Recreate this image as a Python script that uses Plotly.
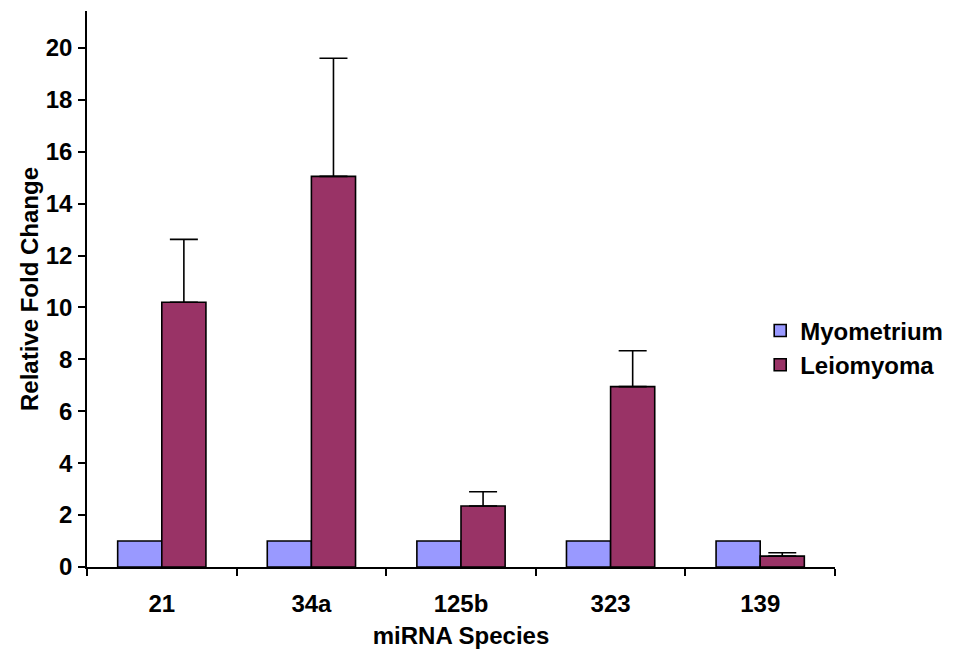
import plotly.graph_objects as go

categories = ["21", "34a", "125b", "323", "139"]
myometrium = [1, 1, 1, 1, 1]
leiomyoma = [10.2, 15.05, 2.35, 6.95, 0.42]
leiomyoma_err = [2.42, 4.55, 0.55, 1.38, 0.13]
y_ticks = [0, 2, 4, 6, 8, 10, 12, 14, 16, 18, 20]

FONT = "Liberation Sans, Arial, sans-serif"
fs = 24

fig = go.Figure()
fig.add_trace(go.Bar(
    x=categories, y=myometrium, name="Myometrium",
    marker=dict(color="#9999FF", line=dict(color="black", width=1.6)),
))
fig.add_trace(go.Bar(
    x=categories, y=leiomyoma, name="Leiomyoma",
    marker=dict(color="#993366", line=dict(color="black", width=1.6)),
    error_y=dict(type="data", array=leiomyoma_err, symmetric=False,
                 arrayminus=[0] * len(leiomyoma_err),
                 color="black", thickness=1.6, width=14),
))

fig.update_layout(
    width=958, height=656,
    margin=dict(l=79, r=131, t=3, b=97),
    paper_bgcolor="white", plot_bgcolor="white",
    barmode="group", bargap=0.41, bargroupgap=0,
    font=dict(family=FONT, size=fs, color="black", weight="bold"),
    showlegend=True,
    legend=dict(x=0.9, xanchor="left", y=0.394, yanchor="middle",
                font=dict(family=FONT, size=fs, color="black", weight="bold"),
                bgcolor="rgba(0,0,0,0)"),
    xaxis=dict(
        automargin=False,
        showline=True, linecolor="black", linewidth=1.5,
        ticks="outside", ticklen=7, tickwidth=1.5, tickcolor="black",
        tickson="boundaries", showgrid=False,
        ticklabelstandoff=14,
        tickfont=dict(family=FONT, size=fs, color="black", weight="bold"),
        title=dict(text="miRNA Species", standoff=12,
                   font=dict(family=FONT, size=fs, color="black", weight="bold")),
    ),
    yaxis=dict(
        automargin=False,
        range=[0, 21.42], showline=True, linecolor="black", linewidth=1.5,
        ticks="outside", ticklen=7, tickwidth=1.5, tickcolor="black",
        tickmode="array", tickvals=y_ticks, ticktext=[str(v) for v in y_ticks],
        showgrid=False, zeroline=False,
        ticklabelstandoff=1,
        tickfont=dict(family=FONT, size=fs, color="black", weight="bold"),
        title=dict(text="Relative Fold Change", standoff=0,
                   font=dict(family=FONT, size=fs, color="black", weight="bold")),
    ),
)

fig.write_html("out.html")
